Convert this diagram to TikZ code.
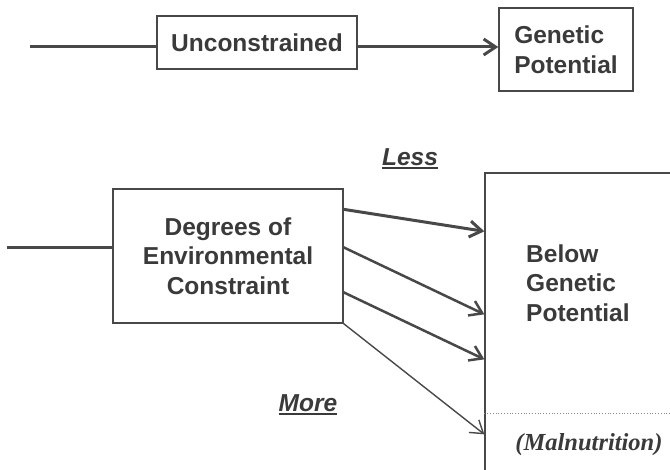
\documentclass[tikz,border=0pt]{standalone}
\usepackage{fontspec}
\setmainfont{Liberation Serif}
\setsansfont{Liberation Sans}
\usetikzlibrary{arrows.meta,positioning}
\definecolor{inkgray}{HTML}{3A3A3A}
\definecolor{linegray}{HTML}{484848}
\definecolor{splitgray}{HTML}{8A8A8A}
\newcommand{\ulcue}[1]{\setbox0=\hbox{#1}\rlap{\copy0}\raisebox{-4pt}{\rule{\wd0}{2.2pt}}}
\tikzset{
  stagebox/.style={draw=linegray,line width=1.3pt,text=inkgray,font=\sffamily\bfseries\fontsize{24.5}{29.5}\selectfont,align=center,inner sep=0pt},
  stagetext/.style={text=inkgray,font=\sffamily\bfseries\fontsize{24.5}{29.5}\selectfont,align=left,inner sep=0pt},
  feedline/.style={line width=3pt,linegray},
  arrow/.style={-{Straight Barb[length=12pt,width=16pt]},line width=3pt,linegray},
  splitline/.style={dotted,line width=0.8pt,splitgray},
  cue/.style={font=\sffamily\bfseries\itshape\fontsize{24.5}{29.5}\selectfont,text=inkgray,inner sep=0pt}
}
\begin{document}
\begin{tikzpicture}[x=1pt,y=-1pt]
  \useasboundingbox (0,0) rectangle (670,470);
  \clip (0,0) rectangle (670,470);

  % Top row: unconstrained growth
  \node[stagebox,minimum width=200pt,minimum height=53pt] (uncon) at (257,42.5) {Unconstrained};
  \node[stagebox,minimum width=134pt,minimum height=83pt,align=left] (genpot) at (566,49.5) {Genetic\\Potential};
  \coordinate (topin) at (30,47);
  \draw[feedline] (topin) -- (topin -| uncon.west);
  \draw[arrow] (uncon.east |- topin) -- (genpot.west |- topin);

  % Bottom row: constrained growth
  \node[stagebox,minimum width=230pt,minimum height=134pt] (degrees) at (228,256) {Degrees of\\Environmental\\Constraint};
  \coordinate (lowin) at (7,248);
  \draw[feedline] (lowin) -- (lowin -| degrees.west);

  \node[draw=linegray,line width=1.3pt,minimum width=215pt,minimum height=327pt,inner sep=0pt] (belowbox) at (592.5,336.5) {};
  \node[stagetext,anchor=west] (belowtxt) at (526,283) {Below\\Genetic\\Potential};
  \coordinate (malsplit) at (487,413);
  \draw[splitline] (belowbox.west |- malsplit) -- (belowbox.east |- malsplit);
  \node[font=\rmfamily\bfseries\itshape\fontsize{24.5}{29.5}\selectfont,text=inkgray,inner sep=0pt] (malnut) at (589,445) {(Malnutrition)};

  \draw[arrow] ([yshift=-21pt]degrees.north east) -- ([yshift=-59pt]belowbox.north west);
  \draw[arrow,line width=2.5pt] ([yshift=-59pt]degrees.north east) -- ([yshift=-142pt]belowbox.north west);
  \draw[arrow,line width=2.5pt] ([yshift=-104pt]degrees.north east) -- ([yshift=-187pt]belowbox.north west);
  \draw[arrow,line width=1.4pt] (degrees.south east) -- ([yshift=-262pt]belowbox.north west);

  \node[cue] (less) at (410,159) {\ulcue{Less}};
  \node[cue] (more) at (308,405) {\ulcue{More}};
\end{tikzpicture}
\end{document}
